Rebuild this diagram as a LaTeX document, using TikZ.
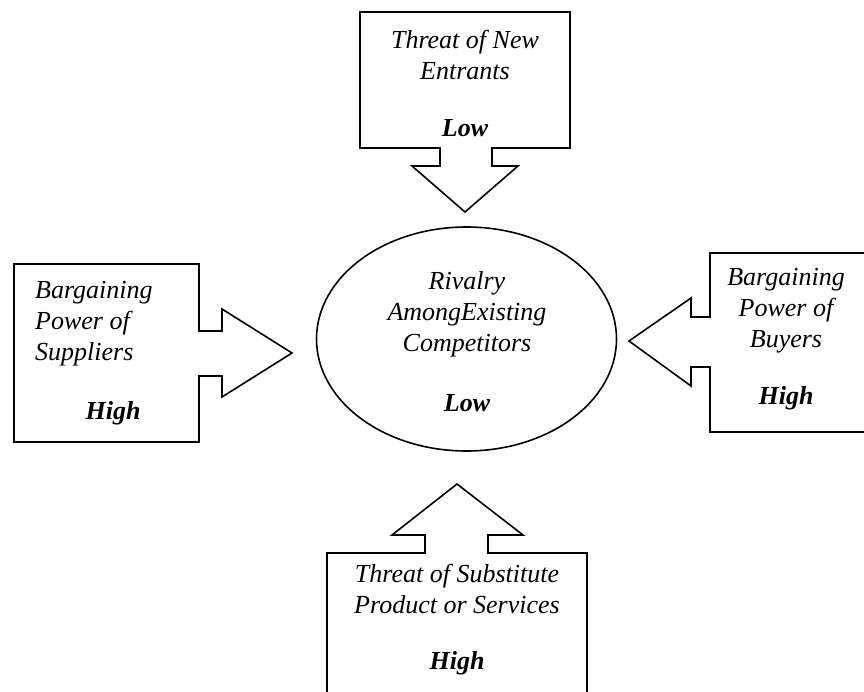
\documentclass[tikz,border=0pt]{standalone}
\usepackage{fontspec}
\setmainfont{Liberation Serif}
\usetikzlibrary{shapes.geometric}
\begin{document}
\begin{tikzpicture}[x=1pt,y=-1pt,
  shapeline/.style={draw=black,line width=1.6pt,line join=miter},
  label/.style={font=\fontsize{26}{31}\selectfont\itshape,inner sep=0pt,align=center},
  level/.style={font=\fontsize{26}{31}\selectfont\bfseries\itshape,inner sep=0pt}]
\useasboundingbox (0,0) rectangle (864,692);
\clip (0,0) rectangle (864,692);
% top callout
\draw[shapeline] (360,12) -- (570,12) -- (570,148) -- (492,148) -- (492,166) -- (518,166)
  -- (465,212) -- (412,166) -- (440,166) -- (440,148) -- (360,148) -- cycle;
% left callout
\draw[shapeline] (14,264) -- (199,264) -- (199,331) -- (222,331) -- (222,309)
  -- (292,353) -- (222,397) -- (222,376) -- (199,376) -- (199,442) -- (14,442) -- cycle;
% right callout
\draw[shapeline] (880,253) -- (710,253) -- (710,317) -- (691,317) -- (691,298)
  -- (629,341) -- (691,386) -- (691,367) -- (710,367) -- (710,432) -- (880,432);
% bottom callout
\draw[shapeline] (327,710) -- (327,553) -- (425,553) -- (425,535) -- (392,535)
  -- (457,484) -- (523,535) -- (488,535) -- (488,553) -- (587,553) -- (587,710);
% ellipse
\node[shapeline,ellipse,minimum width=300pt,minimum height=224pt,inner sep=0pt] (rival) at (466.5,339) {};

\node[label] (tnew) at (465,55) {Threat of New\\Entrants};
\node[level] (tnewlv) at (465,128) {Low};

\node[label,align=left,anchor=west] (supp) at (35,324) {Bargaining\\Power of\\Suppliers};
\node[level] (supplv) at (113,413) {High};

\node[label] (buy) at (786,311) {Bargaining\\Power of\\Buyers};
\node[level] (buylv) at (786,398) {High};

\node[label] (subst) at (457,589) {Threat of Substitute\\Product or Services};
\node[level] (substlv) at (457,663) {High};

\node[label] (rivtext) at (467,314) {Rivalry\\AmongExisting\\Competitors};
\node[level] (rivlv) at (467,403) {Low};
\end{tikzpicture}
\end{document}
